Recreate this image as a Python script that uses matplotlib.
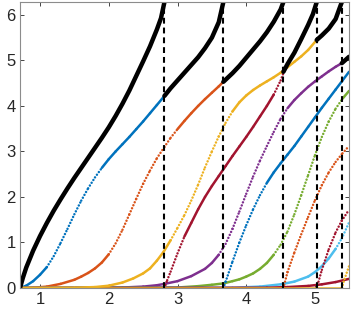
import matplotlib.pyplot as plt
import numpy as np
from matplotlib.collections import LineCollection

plt.rcParams['font.family'] = ['Liberation Sans', 'DejaVu Sans']

# MATLAB default colour order
c_blue = '#0072BD'
c_orange = '#D95319'
c_yellow = '#EDB120'
c_purple = '#7E2F8E'
c_green = '#77AC30'
c_lblue = '#4DBEEE'
c_red = '#A2142F'

TWO_PI = 2 * np.pi

# positions where the top branch wraps past 2*pi
x_wrap = [2.81, 3.667, 4.54, 5.025, 5.39]

# coloured branches
blue1_x = [0.709, 0.8, 0.9, 1.0, 1.1, 1.2, 1.3, 1.4, 1.5, 1.6, 1.7, 1.8, 1.9,
           2.0, 2.1, 2.2, 2.3, 2.4, 2.5, 2.6, 2.7, 2.81]
blue1_y = [0.0, 0.05, 0.15, 0.29, 0.46, 0.70, 0.99, 1.30, 1.62, 1.92, 2.19,
           2.43, 2.64, 2.83, 3.00, 3.16, 3.32, 3.49, 3.66, 3.84, 4.02, 4.22]

orange1_x = [0.709, 0.9, 1.1, 1.3, 1.5, 1.6, 1.7, 1.8, 1.9, 2.0, 2.1, 2.2,
             2.3, 2.4, 2.5, 2.6, 2.7, 2.81, 2.9, 3.0, 3.1, 3.2, 3.3, 3.4,
             3.5, 3.6, 3.667]
orange1_y = [0.0, 0.005, 0.03, 0.09, 0.18, 0.25, 0.33, 0.43, 0.56, 0.74, 0.98,
             1.28, 1.62, 1.96, 2.29, 2.58, 2.85, 3.10, 3.30, 3.49, 3.67, 3.84,
             4.00, 4.15, 4.29, 4.43, 4.53]

yellow1_x = [0.709, 1.5, 1.8, 2.0, 2.2, 2.357, 2.5, 2.6, 2.7, 2.8, 2.9, 3.0,
             3.1, 3.2, 3.3, 3.4, 3.5, 3.6, 3.7, 3.8, 3.9, 4.0, 4.1, 4.2, 4.3,
             4.4, 4.5, 4.6, 4.7, 4.8, 4.9, 5.025]
yellow1_y = [0.0, 0.005, 0.02, 0.05, 0.12, 0.21, 0.32, 0.43, 0.60, 0.80, 1.05,
             1.32, 1.60, 1.92, 2.27, 2.65, 3.00, 3.33, 3.63, 3.88, 4.08, 4.23,
             4.35, 4.45, 4.54, 4.63, 4.73, 4.85, 4.97, 5.09, 5.23, 5.45]

purple1_x = [0.709, 2.2, 2.5, 2.7, 2.81, 3.0, 3.2, 3.4, 3.5, 3.6, 3.7, 3.8,
             3.9, 4.0, 4.1, 4.2, 4.3, 4.4, 4.5, 4.6, 4.7, 4.8, 4.9, 5.0, 5.1,
             5.2, 5.3, 5.39]
purple1_y = [0.0, 0.01, 0.03, 0.06, 0.09, 0.15, 0.26, 0.42, 0.55, 0.73, 0.97,
             1.30, 1.68, 2.07, 2.45, 2.80, 3.12, 3.43, 3.72, 3.95, 4.13, 4.28,
             4.42, 4.54, 4.65, 4.76, 4.86, 4.94]

green1_x = [0.709, 3.0, 3.3, 3.5, 3.667, 3.8, 3.9, 4.0, 4.1, 4.2, 4.3, 4.4,
            4.5, 4.6, 4.7, 4.8, 4.9, 5.0, 5.1, 5.2, 5.3, 5.4, 5.495]
green1_y = [0.0, 0.01, 0.04, 0.07, 0.10, 0.15, 0.19, 0.25, 0.32, 0.42, 0.55,
            0.73, 0.95, 1.24, 1.62, 2.04, 2.48, 2.92, 3.32, 3.66, 3.94, 4.16,
            4.33]

lblue1_x = [0.709, 3.8, 4.2, 4.5, 4.7, 4.9, 5.0, 5.1, 5.2, 5.3, 5.39, 5.495]
lblue1_y = [0.0, 0.005, 0.03, 0.08, 0.14, 0.25, 0.35, 0.48, 0.65, 0.86, 1.09,
            1.44]

red1_x = [2.81, 2.85, 2.9, 3.0, 3.1, 3.2, 3.3, 3.4, 3.5, 3.6, 3.7, 3.8, 3.9,
          4.0, 4.1, 4.2, 4.3, 4.4, 4.5, 4.54]
red1_y = [0.0, 0.17, 0.36, 0.76, 1.13, 1.43, 1.73, 2.00, 2.24, 2.46, 2.68,
          2.90, 3.11, 3.32, 3.54, 3.77, 4.00, 4.25, 4.56, 4.72]

red_flat_x = [0.709, 4.3, 4.6, 4.9, 5.1, 5.3, 5.495]
red_flat_y = [0.0, 0.005, 0.02, 0.045, 0.08, 0.13, 0.20]

blue2_x = [3.667, 3.7, 3.8, 3.9, 4.0, 4.1, 4.2, 4.3, 4.4, 4.5, 4.6, 4.7, 4.8,
           4.9, 5.0, 5.1, 5.2, 5.3, 5.4, 5.495]
blue2_y = [0.0, 0.14, 0.58, 1.00, 1.38, 1.73, 2.04, 2.31, 2.54, 2.74, 2.93,
           3.12, 3.33, 3.54, 3.75, 3.96, 4.16, 4.36, 4.56, 4.75]

orange2_x = [4.54, 4.6, 4.7, 4.8, 4.9, 5.0, 5.1, 5.2, 5.3, 5.4, 5.495]
orange2_y = [0.0, 0.35, 0.78, 1.18, 1.56, 1.93, 2.26, 2.54, 2.77, 2.96, 3.12]

red2_x = [5.025, 5.1, 5.2, 5.3, 5.39, 5.495]
red2_y = [0.0, 0.40, 0.85, 1.22, 1.48, 1.72]

yellow2_x = [0.709, 5.39, 5.43, 5.495]
yellow2_y = [0.0, 0.0, 0.20, 0.48]

# top (black) branch, one piece between each wrap
black_x = [
    [0.709, 0.75, 0.8, 0.9, 1.0, 1.1, 1.2, 1.3, 1.4, 1.5, 1.6, 1.7, 1.8, 1.9,
     2.0, 2.1, 2.2, 2.3, 2.4, 2.5, 2.6, 2.7, 2.76, 2.81],
    [2.81, 2.9, 3.0, 3.1, 3.2, 3.3, 3.4, 3.5, 3.6, 3.667],
    [3.667, 3.8, 3.9, 4.0, 4.1, 4.2, 4.3, 4.4, 4.5, 4.54],
    [4.54, 4.6, 4.7, 4.8, 4.9, 4.97, 5.025],
    [5.025, 5.1, 5.2, 5.3, 5.39],
    [5.39, 5.45, 5.495],
]
black_y = [
    [0.0, 0.22, 0.45, 0.82, 1.14, 1.43, 1.70, 1.95, 2.19, 2.42, 2.64, 2.86,
     3.08, 3.30, 3.53, 3.78, 4.05, 4.34, 4.66, 4.98, 5.31, 5.68, 5.93, TWO_PI],
    [4.22, 4.39, 4.56, 4.73, 4.90, 5.07, 5.27, 5.50, 5.84, TWO_PI],
    [4.53, 4.72, 4.88, 5.06, 5.24, 5.42, 5.62, 5.85, 6.12, TWO_PI],
    [4.75, 4.92, 5.17, 5.47, 5.78, 6.02, TWO_PI],
    [5.45, 5.55, 5.70, 5.91, TWO_PI],
    [4.94, 5.02, 5.08],
]

fig = plt.figure(figsize=(3.54, 3.12), dpi=100)
ax = fig.add_axes([0.0565, 0.077, 0.9295, 0.9165])

lw = 1.8


def draw_branch(xs, ys, col, steep):
    # steep stretches look dotted in the original (sparse samples)
    pts = np.column_stack([xs, ys])
    segs = np.stack([pts[:-1], pts[1:]], axis=1)
    slope = np.diff(ys) / np.diff(xs)
    styles = [(0, (0.01, 1.3)) if s > steep else 'solid' for s in slope]
    ax.add_collection(LineCollection(segs, colors=col, linewidths=lw,
                                     linestyles=styles, capstyle='round'))


series = [
    (blue1_x, blue1_y, c_blue, 2.1), (orange1_x, orange1_y, c_orange, 1.8),
    (purple1_x, purple1_y, c_purple, 2.3), (green1_x, green1_y, c_green, 2.0),
    (lblue1_x, lblue1_y, c_lblue, 2.2), (red_flat_x, red_flat_y, c_red, 2.5),
    (red1_x, red1_y, c_red, 3.1), (blue2_x, blue2_y, c_blue, 2.5),
    (orange2_x, orange2_y, c_orange, 1.5), (red2_x, red2_y, c_red, 1.5),
    (yellow1_x, yellow1_y, c_yellow, 2.5), (yellow2_x, yellow2_y, c_yellow, 2.5),
]
for xs, ys, col, steep in series:
    draw_branch(xs, ys, col, steep)

for xv in x_wrap:
    ax.plot([xv, xv], [0, TWO_PI], color='k', lw=1.5,
            linestyle=(0, (2.8, 1.9)))

for xs, ys in zip(black_x, black_y):
    ax.plot(xs, ys, color='k', lw=3.2, solid_capstyle='round')

ax.set_xlim(0.709, 5.495)
ax.set_ylim(0, TWO_PI)
ax.set_xticks([1, 2, 3, 4, 5])
ax.set_yticks([0, 1, 2, 3, 4, 5, 6])
ax.tick_params(direction='in', length=3, width=0.6, top=True, right=True,
               labelsize=12, colors='0.15', pad=3)
for s in ax.spines.values():
    s.set_color('0.55')
    s.set_linewidth(0.8)

plt.savefig('out.png', dpi=100)
